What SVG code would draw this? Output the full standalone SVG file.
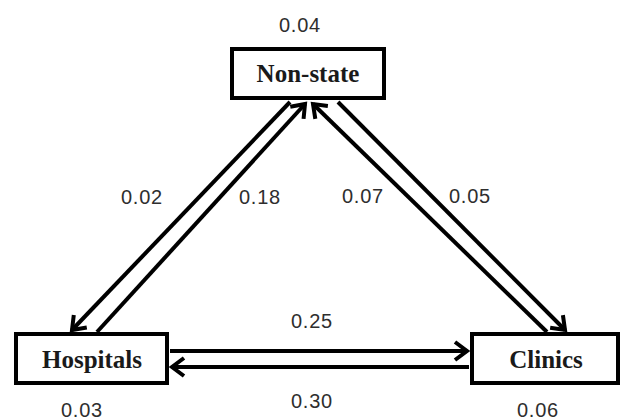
<svg xmlns="http://www.w3.org/2000/svg" width="622" height="420" viewBox="0 0 622 420">
<style>
.box{fill:#fff;stroke:#000;stroke-width:4}
.lbl{font-family:"Liberation Serif","DejaVu Serif",serif;font-weight:bold;font-size:25px;fill:#1a1a1a;text-anchor:middle}
.num{font-family:"Liberation Sans","Open Sans",sans-serif;font-size:20px;fill:#2e2e2e;text-anchor:middle;letter-spacing:0.8px}
.edge{stroke:#000;stroke-width:4;fill:none;marker-end:url(#arr)}
</style>
<defs>
<marker id="arr" markerUnits="userSpaceOnUse" viewBox="-16 -12 20 24" refX="0" refY="0" markerWidth="20" markerHeight="24" orient="auto">
<path d="M-12,-9 L0,0 L-12,9" fill="none" stroke="#000" stroke-width="4" stroke-linejoin="miter"/>
</marker>
</defs>
<g id="connectors">
<line class="edge" x1="290" y1="102" x2="72" y2="330"/>
<line class="edge" x1="97" y1="332" x2="305" y2="104"/>
<line class="edge" x1="547" y1="332" x2="313" y2="104"/>
<line class="edge" x1="338" y1="102" x2="565" y2="330"/>
<line class="edge" x1="170" y1="351" x2="467" y2="351"/>
<line class="edge" x1="469" y1="367" x2="172" y2="367"/>
</g>
<g id="node-nonstate">
<rect class="box" x="232" y="49" width="152" height="49"/>
<text class="lbl" x="308" y="82">Non-state</text>
</g>
<g id="node-hospitals">
<rect class="box" x="16" y="334" width="151" height="49"/>
<text class="lbl" x="92" y="368">Hospitals</text>
</g>
<g id="node-clinics">
<rect class="box" x="472" y="334" width="146" height="49"/>
<text class="lbl" x="546" y="368">Clinics</text>
</g>
<g id="labels">
<text class="num" x="300" y="32">0.04</text>
<text class="num" x="142" y="204">0.02</text>
<text class="num" x="260" y="204">0.18</text>
<text class="num" x="363" y="203">0.07</text>
<text class="num" x="470" y="203">0.05</text>
<text class="num" x="312" y="328">0.25</text>
<text class="num" x="312" y="408">0.30</text>
<text class="num" x="82" y="417">0.03</text>
<text class="num" x="538" y="417">0.06</text>
</g>
</svg>
